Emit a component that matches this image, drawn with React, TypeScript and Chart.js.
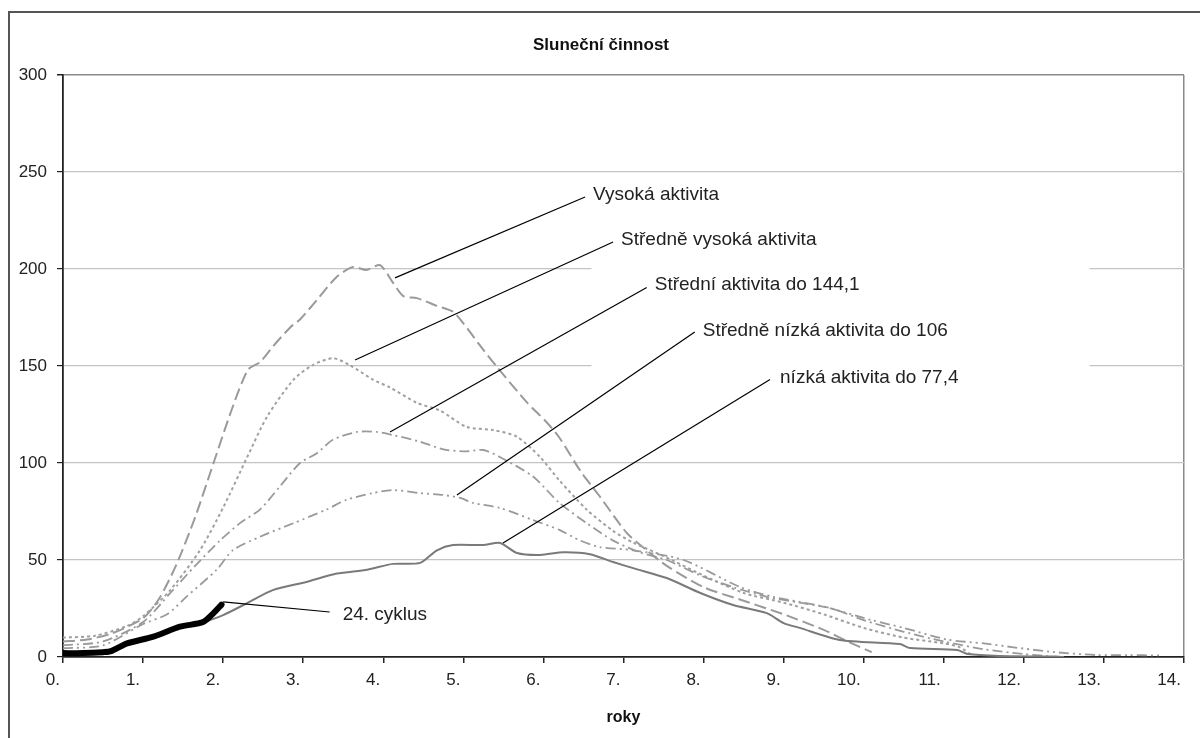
import React, { useEffect, useRef } from "react";
import { Chart, registerables } from "chart.js";

Chart.register(...registerables);

// ---- data (years from cycle start, sunspot number) ----
const vysokaX = [0, 0.3, 0.6, 1.0, 1.2, 1.42, 1.65, 1.88, 2.12, 2.31, 2.46, 2.62, 2.84, 2.96, 3.17, 3.42, 3.62, 3.79, 3.96, 4.12, 4.25, 4.42, 4.67, 4.87, 5.0, 5.2, 5.42, 5.8, 6.04, 6.2, 6.46, 6.7, 7.04, 7.29, 7.54, 8.0, 8.5, 9.0, 9.5, 9.8, 10.1];
const vysokaY = [8, 9, 12, 20, 30, 48, 72, 100, 129, 148, 152, 160, 170, 174, 184, 196, 201, 199.5, 202, 193, 186, 185, 181, 178, 172, 161, 149.5, 131, 121, 113, 96, 83, 64, 55, 47, 36, 29, 22, 14, 8, 2.5];

const strVysokaX = [0, 0.4, 0.8, 1.0, 1.34, 1.71, 2.0, 2.3, 2.55, 2.88, 3.12, 3.37, 3.58, 3.87, 4.08, 4.42, 4.71, 5.04, 5.37, 5.67, 5.96, 6.2, 6.54, 6.87, 7.12, 7.5, 8.0, 8.5, 9.0, 9.5, 10.0, 10.5, 11.0, 11.2, 11.35];
const strVysokaY = [10, 11, 16, 21, 34.5, 55, 77, 103, 124, 143, 150.5, 154, 150.5, 143, 139, 131, 127, 118.6, 117, 113.5, 103, 91, 76, 65, 59, 52, 42, 33, 28, 22, 15, 10, 7, 5, 1];

const stredniX = [0, 0.5, 1.0, 1.34, 1.65, 1.96, 2.21, 2.46, 2.71, 2.96, 3.17, 3.37, 3.67, 3.92, 4.12, 4.46, 4.75, 5.04, 5.25, 5.46, 5.87, 6.2, 6.54, 6.87, 7.2, 7.54, 7.96, 8.37, 8.79, 9.2, 9.6, 10.0, 10.5, 11.0, 11.5, 12.0, 12.3];
const stredniY = [6, 8, 18, 33, 47, 60, 69, 76, 88, 100, 105, 112, 116, 116, 114.4, 111, 107, 106, 106.7, 103, 93, 79.4, 69, 60, 54, 50, 42, 36, 31, 28, 25, 19, 13, 8, 4, 1.5, 0.5];

const strNizkaX = [0, 0.5, 1.0, 1.3, 1.54, 1.92, 2.12, 2.46, 2.88, 3.29, 3.54, 3.87, 4.12, 4.46, 4.75, 4.96, 5.12, 5.46, 5.87, 6.2, 6.46, 6.7, 7.12, 7.75, 8.46, 8.87, 9.5, 10.1, 10.5, 11.04, 11.5, 11.87, 12.36, 12.9, 13.3, 13.7];
const strNizkaY = [4.5, 6, 17, 22, 31, 45, 55, 62, 69, 76, 81, 84.5, 86, 84.5, 83.5, 82, 79.4, 76.8, 70.6, 65.5, 60, 56.7, 55, 50, 36, 31, 26, 19, 15, 9, 7, 5, 2.6, 1, 1, 0.8];

const nizkaX = [0, 0.5, 0.8, 1.13, 1.46, 1.75, 2.0, 2.3, 2.62, 3.04, 3.42, 3.8, 4.12, 4.46, 4.67, 4.87, 5.25, 5.46, 5.67, 5.96, 6.25, 6.58, 6.87, 7.12, 7.54, 7.96, 8.37, 8.79, 9.0, 9.2, 9.7, 10.45, 10.58, 11.17, 11.3, 11.7, 12.4, 12.5];
const nizkaY = [2.5, 3, 6.5, 10, 15, 18, 21.6, 27.8, 34.5, 38.7, 43, 45, 48, 48.5, 55, 57.7, 57.7, 58.8, 53.6, 52.6, 54, 53, 49, 45.8, 40.7, 33, 26.8, 22.6, 17.5, 15, 8.8, 6.7, 4.6, 3.6, 1.5, 0.5, 0.2, 0];

const cyklus24X = [0, 0.25, 0.5, 0.6, 0.8, 1.13, 1.46, 1.75, 1.88, 1.98];
const cyklus24Y = [2, 2, 2.5, 3, 7, 10.5, 15.6, 18, 22.6, 27];

const seriesNames = [
  "Vysoká aktivita",
  "Středně vysoká aktivita",
  "Střední aktivita do 144,1",
  "Středně nízká aktivita do 106",
  "nízká aktivita do 77,4",
  "24. cyklus",
];

const titleText = "Sluneční činnost";
const xAxisTitle = "roky";

// leader lines: from a point near the curve to the label anchor (data coords)
const annotations = [
  { text: seriesNames[0], from: [4.146, 195.4], to: [6.52, 237.1], dx: 8, dy: -2 },
  { text: seriesNames[1], from: [3.647, 153.1], to: [6.87, 213.9], dx: 8, dy: -2 },
  { text: seriesNames[2], from: [4.084, 116], to: [7.29, 190.5], dx: 8, dy: -3 },
  { text: seriesNames[3], from: [4.92, 83.5], to: [7.89, 167.5], dx: 8, dy: -1 },
  { text: seriesNames[4], from: [5.495, 58.8], to: [8.83, 143], dx: 10, dy: -2 },
  { text: seriesNames[5], from: [2.0, 28.4], to: [3.33, 23.2], dx: 13, dy: 3 },
];

// white label boxes interrupting gridlines (value, x-from, x-to)
const gridGaps = [
  { value: 200, from: 6.6, to: 12.82 },
  { value: 150, from: 6.6, to: 12.82 },
];

const FONT = "'Liberation Sans', Arial, Helvetica, sans-serif";

function zip(xs: number[], ys: number[]) {
  return xs.map((x, i) => ({ x, y: ys[i] }));
}

const decorPlugin = {
  id: "decor",
  beforeDraw(chart: any) {
    const { ctx, width, height } = chart;
    ctx.save();
    ctx.fillStyle = "#ffffff";
    ctx.fillRect(0, 0, width, height);
    ctx.strokeStyle = "#555555";
    ctx.lineWidth = 2;
    ctx.beginPath();
    ctx.moveTo(9, height + 2);
    ctx.lineTo(9, 12);
    ctx.lineTo(width + 2, 12);
    ctx.stroke();
    ctx.restore();
  },
  beforeDatasetsDraw(chart: any) {
    const { ctx, scales } = chart;
    const xs = scales.x;
    const ys = scales.y;
    ctx.save();
    ctx.fillStyle = "#ffffff";
    gridGaps.forEach((g) => {
      const x0 = xs.getPixelForValue(g.from);
      const x1 = xs.getPixelForValue(g.to);
      const y = ys.getPixelForValue(g.value);
      ctx.fillRect(x0, y - 3, x1 - x0, 6);
    });
    ctx.restore();
  },
  afterDatasetsDraw(chart: any) {
    const { ctx, scales, width } = chart;
    const xs = scales.x;
    const ys = scales.y;
    ctx.save();
    ctx.strokeStyle = "#000000";
    ctx.lineWidth = 1.2;
    ctx.fillStyle = "#222222";
    ctx.font = `19px ${FONT}`;
    ctx.textAlign = "left";
    ctx.textBaseline = "middle";
    annotations.forEach((a) => {
      const x0 = xs.getPixelForValue(a.from[0]);
      const y0 = ys.getPixelForValue(a.from[1]);
      const x1 = xs.getPixelForValue(a.to[0]);
      const y1 = ys.getPixelForValue(a.to[1]);
      ctx.beginPath();
      ctx.moveTo(x0, y0);
      ctx.lineTo(x1, y1);
      ctx.stroke();
      ctx.fillText(a.text, x1 + a.dx, y1 + a.dy);
    });
    ctx.font = `bold 17px ${FONT}`;
    ctx.textAlign = "center";
    ctx.fillStyle = "#111111";
    ctx.fillText(titleText, width / 2 + 1, 45);
    ctx.restore();
  },
};

export default function App() {
  const ref = useRef<HTMLCanvasElement | null>(null);

  useEffect(() => {
    if (!ref.current) return;
    Chart.defaults.font.family = FONT;
    const gray = "#9a9a9a";
    const chart = new Chart(ref.current, {
      type: "line",
      data: {
        datasets: [
          {
            label: seriesNames[0],
            data: zip(vysokaX, vysokaY),
            borderColor: gray,
            borderWidth: 2,
            borderDash: [12, 5],
            order: 5,
          },
          {
            label: seriesNames[1],
            data: zip(strVysokaX, strVysokaY),
            borderColor: "#a0a0a0",
            borderWidth: 2,
            borderDash: [3, 3],
            order: 4,
          },
          {
            label: seriesNames[2],
            data: zip(stredniX, stredniY),
            borderColor: gray,
            borderWidth: 1.8,
            borderDash: [10, 4, 2, 4],
            order: 3,
          },
          {
            label: seriesNames[3],
            data: zip(strNizkaX, strNizkaY),
            borderColor: gray,
            borderWidth: 1.8,
            borderDash: [10, 4, 2, 4, 2, 4],
            order: 2,
          },
          {
            label: seriesNames[4],
            data: zip(nizkaX, nizkaY),
            borderColor: "#7a7a7a",
            borderWidth: 2,
            order: 1,
          },
          {
            label: seriesNames[5],
            data: zip(cyklus24X, cyklus24Y),
            borderColor: "#000000",
            borderWidth: 6,
            borderCapStyle: "round",
            borderJoinStyle: "round",
            order: -1,
          },
        ],
      },
      options: {
        responsive: false,
        animation: false,
        parsing: true,
        elements: {
          point: { radius: 0, hoverRadius: 0 },
          line: { tension: 0.25, fill: false },
        },
        layout: { padding: { left: 8, right: 16, top: 75, bottom: 0 } },
        plugins: {
          legend: { display: false },
          tooltip: { enabled: false },
          title: { display: false },
        },
        scales: {
          x: {
            type: "linear",
            min: 0,
            max: 14,
            afterFit: (s: any) => {
              s.height = 81;
            },
            ticks: {
              stepSize: 1,
              autoSkip: false,
              maxRotation: 0,
              align: "end",
              labelOffset: -3,
              padding: 7,
              color: "#222222",
              font: { size: 17 },
              callback: (v: any) => `${v}.`,
            },
            grid: {
              color: (c: any) => (c.tick && c.tick.value === 14 ? "#8a8a8a" : "rgba(0,0,0,0)"),
              lineWidth: 1.5,
              tickColor: "#222222",
              tickLength: 6,
              drawTicks: true,
            },
            border: { color: "#222222", width: 1.8 },
            title: {
              display: true,
              text: xAxisTitle,
              color: "#111111",
              font: { size: 16, weight: "bold" },
              padding: { top: 0, bottom: 11 },
            },
          },
          y: {
            type: "linear",
            min: 0,
            max: 300,
            afterFit: (s: any) => {
              s.width = 55;
            },
            ticks: {
              stepSize: 50,
              padding: 10,
              color: "#222222",
              font: { size: 17 },
            },
            grid: {
              color: (c: any) =>
                c.tick && c.tick.value === 300
                  ? "#8a8a8a"
                  : c.tick && c.tick.value === 0
                  ? "rgba(0,0,0,0)"
                  : "#c4c4c4",
              lineWidth: (c: any) => (c.tick && c.tick.value === 300 ? 1.5 : 1.2),
              tickColor: "#222222",
              tickLength: 6,
            },
            border: { color: "#222222", width: 1.8 },
          },
        },
      },
      plugins: [decorPlugin],
    });
    return () => chart.destroy();
  }, []);

  return (
    <div
      style={{
        position: "fixed",
        left: 0,
        top: 0,
        width: 1200,
        height: 738,
        overflow: "hidden",
        background: "#ffffff",
      }}
    >
      <canvas ref={ref} width={1200} height={738} style={{ display: "block", width: 1200, height: 738 }} />
    </div>
  );
}
